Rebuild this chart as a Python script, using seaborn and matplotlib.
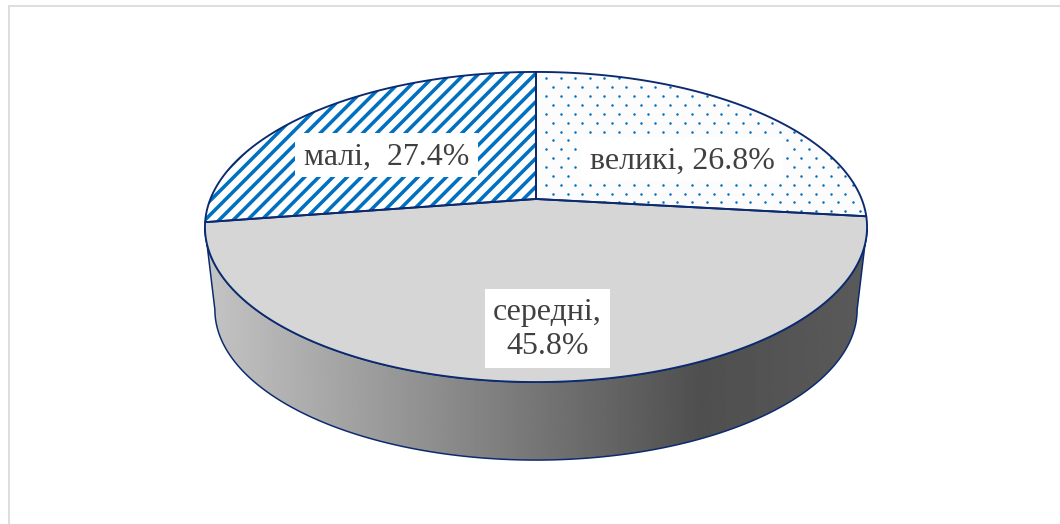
import numpy as np
import matplotlib
matplotlib.use("Agg")
import matplotlib.pyplot as plt
from matplotlib.patches import Polygon, Rectangle
import seaborn as sns

# ---- data ----
categories = ["великі", "середні", "малі"]
shares = [26.8, 45.8, 27.4]
separators = [", ", ",\n", ",  "]

# ---- style ----
sns.set_theme(style="white")
DPI = 85
plt.rcParams["font.family"] = ["Liberation Serif", "DejaVu Serif"]
plt.rcParams["hatch.linewidth"] = 3.0
plt.rcParams["path.simplify"] = False

PATTERN_BLUE, TOP_GRAY = sns.color_palette(["#0070c0", "#d6d6d6"])
NAVY = "#0b2a6f"
TEXT = "#404040"
FRAME = "#dedede"
LW = 1.6

# perspective model of the disc, pixel units
CX, CY = 536.0, 199.0
A, B, K = 325.6, 150.0, 0.1806
SHRINK, DROP = 0.97, 83.5


def rim(theta, scale=1.0, drop=0.0):
    """Project points of the tilted disc; theta is clockwise from 12 o'clock."""
    denom = 1 + K * np.cos(theta)
    x = CX + scale * A * np.sin(theta) / denom
    y = CY + drop - scale * B * np.cos(theta) / denom
    return np.column_stack([x, y])


fig = plt.figure(figsize=(1060.01 / DPI, 524.01 / DPI), dpi=DPI, facecolor="white")
ax = fig.add_axes([0, 0, 1, 1])
ax.set_axis_off()

# frame of the chart area (only its left and top edges are visible)
ax.plot([8.5, 8.5, 1060], [524, 6.5, 6.5], color=FRAME, lw=1.7, solid_joinstyle="miter")

# ---- side wall with gradient ----
t0 = np.arccos(-K)
t_side = np.linspace(t0, 2 * np.pi - t0, 400)
side_xy = np.vstack([rim(t_side), rim(t_side[::-1], SHRINK, DROP)])
side_patch = Polygon(side_xy, closed=True, fc="none", ec=NAVY, lw=LW * 0.8, zorder=2)
ax.add_patch(side_patch)
xs = np.linspace(205, 867, 662)
grays = np.interp(xs, [215, 700, 857], [0.76, 0.31, 0.35])
img = ax.imshow(grays[None, :], cmap="gray", vmin=0, vmax=1, aspect="auto",
                extent=[205, 867, 470, 210], zorder=1, interpolation="bilinear")
img.set_clip_path(side_patch)

# ---- top surface wedges ----
edges = np.concatenate([[0], np.cumsum(shares)]) / np.sum(shares) * 2 * np.pi
wedges = {}
for name, start, stop in zip(categories, edges[:-1], edges[1:]):
    t = np.linspace(start, stop, 300)
    wedges[name] = np.vstack([[CX, CY], rim(t)])

ax.add_patch(Polygon(wedges["середні"], closed=True, fc=TOP_GRAY, ec="none", lw=0, zorder=3))

ax.add_patch(Polygon(wedges["малі"], closed=True, fc="white", ec=PATTERN_BLUE,
                     hatch="//", lw=0, zorder=3))

dots_bg = Polygon(wedges["великі"], closed=True, fc="#fcfcfc", ec="none", lw=0, zorder=3)
ax.add_patch(dots_bg)
rows = np.arange(78.5, 225, 8.85)
for i, ry in enumerate(rows):
    cols = np.arange(546 + (7.2 if i % 2 else 0), 880, 14.6)
    dots = ax.scatter(cols, np.full_like(cols, ry), s=4.5, color=PATTERN_BLUE,
                      linewidths=0, zorder=3.1)
    dots.set_clip_path(dots_bg)

for name in categories:
    ax.add_patch(Polygon(wedges[name], closed=True, fc="none", ec=NAVY, lw=LW,
                         joinstyle="round", zorder=4))

# ---- labels ----
boxes = [(581, 137, 202, 44), (485, 289, 125, 79), (295, 133, 183, 44)]
shifts = [2.5, 1, 2.5]
for name, share, sep, (bx, by, bw, bh), dy in zip(categories, shares, separators, boxes, shifts):
    ax.add_patch(Rectangle((bx, by), bw, bh, fc="white", ec="none", zorder=5))
    ax.text(bx + bw / 2, by + bh / 2 + dy, f"{name}{sep}{share:.1f}%", ha="center", va="center",
            color=TEXT, fontsize=27, linespacing=1.22, zorder=6)

ax.set_xlim(0, 1060)
ax.set_ylim(524, 0)
fig.savefig("out.png", dpi=DPI, facecolor="white")
